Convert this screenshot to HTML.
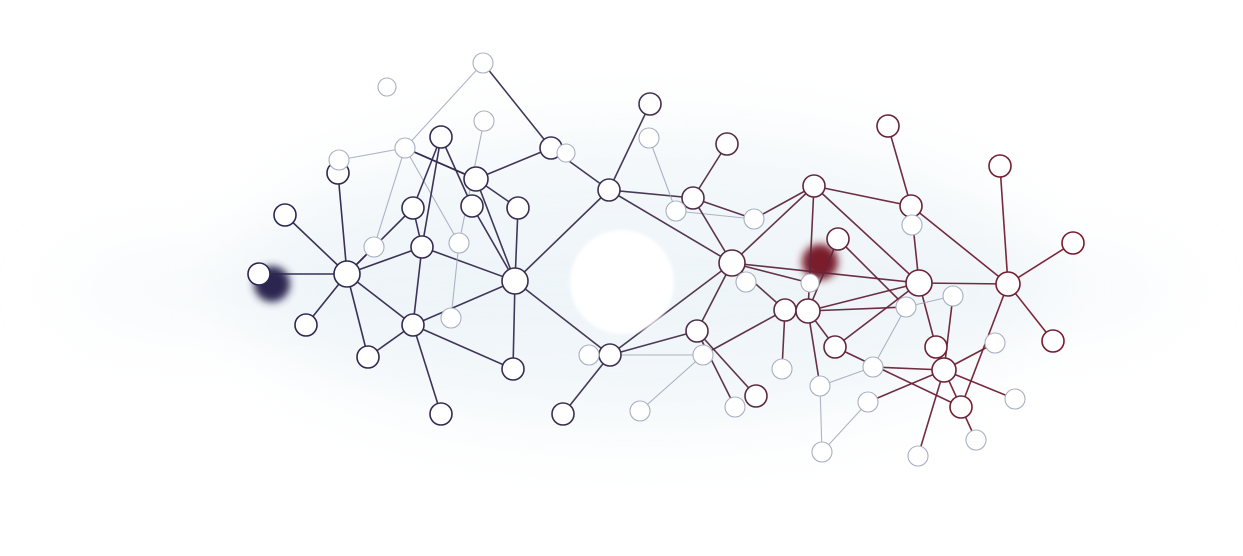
<!DOCTYPE html>
<html><head><meta charset="utf-8">
<style>
html,body{margin:0;padding:0;background:#fff;width:1243px;height:556px;overflow:hidden}
svg{display:block}
</style></head>
<body>
<svg id="net" width="1243" height="556" viewBox="0 0 1243 556" xmlns="http://www.w3.org/2000/svg">
<defs>
<linearGradient id="eg" gradientUnits="userSpaceOnUse" x1="250" y1="0" x2="1080" y2="0">
<stop offset="0" stop-color="#2b2550"/><stop offset="0.45" stop-color="#3d3050"/><stop offset="0.6" stop-color="#5a2a40"/><stop offset="1" stop-color="#7a1a2c"/>
</linearGradient>
<filter id="blur" x="-50%" y="-50%" width="200%" height="200%"><feGaussianBlur stdDeviation="35"/></filter>
<filter id="blur2" x="-50%" y="-50%" width="200%" height="200%"><feGaussianBlur stdDeviation="4"/></filter>
<filter id="blur3" x="-50%" y="-50%" width="200%" height="200%"><feGaussianBlur stdDeviation="1.5"/></filter>
</defs>
<g>
<ellipse cx="640" cy="280" rx="400" ry="150" fill="#edf4f8" filter="url(#blur)" opacity="0.7"/>
<ellipse cx="620" cy="290" rx="560" ry="50" fill="#eaf2f7" filter="url(#blur)" opacity="0.5"/>
</g>
<g id="blobs"></g>
<g id="edges"></g>
<g id="nodes"></g>
<circle cx="622" cy="282" r="52" fill="#fff" filter="url(#blur3)"/>
</svg>
<script>
// node positions [x, y, radius, faded(0/1)]
const nodes = {
A:[259,274,11,0],B:[347,274,13,0],C:[285,215,11,0],D:[306,325,11,0],E:[338,173,11,0],F:[339,160,10,1],
G:[405,148,10,1],H:[387,87,9,1],I:[441,137,11,0],J:[413,208,11,0],K:[422,247,11,0],L:[459,243,10,1],
M:[472,206,11,0],N:[476,179,12,0],O:[518,208,11,0],P:[515,281,13,0],Q:[413,325,11,0],R:[368,357,11,0],
S:[441,414,11,0],T:[513,369,11,0],U:[483,63,10,1],V:[484,121,10,1],W:[551,148,11,0],X:[566,153,9,1],
Y:[374,247,10,1],Z:[451,318,10,1],
m1:[609,190,11,0],m2:[650,104,11,0],m3:[649,138,10,1],m4:[693,198,11,0],m5:[727,144,11,0],m6:[676,211,10,1],
m7:[754,219,10,1],m8:[732,263,13,0],m9:[746,282,10,1],m10:[697,331,11,0],m11:[703,355,10,1],m12:[610,355,11,0],
m13:[589,355,10,1],m14:[563,414,11,0],m15:[640,411,10,1],m16:[735,407,10,1],m17:[756,396,11,0],
r1:[814,186,11,0],r2:[888,126,11,0],r3:[911,206,11,0],r4:[912,225,10,1],r5:[838,239,11,0],r6:[919,283,13,0],
r7:[1000,166,11,0],r8:[1073,243,11,0],r9:[1008,284,12,0],r10:[1053,341,11,0],r11:[785,310,11,0],r12:[808,311,12,0],
r13:[835,347,11,0],r14:[906,307,10,1],r15:[953,296,10,1],r16:[936,347,11,0],r17:[944,370,12,0],r18:[961,407,11,0],
r19:[995,343,10,1],r20:[1015,399,10,1],r21:[976,440,10,1],r22:[918,456,10,1],r23:[873,367,10,1],r24:[868,402,10,1],
r25:[820,386,10,1],r26:[822,452,10,1],r27:[782,369,10,1],r28:[810,283,9,1]
};
const edges = [
["A","B"],["B","C"],["B","D"],["B","E"],["B","J"],["B","K"],["B","Q"],["B","R"],["B","Y"],
["E","F"],["F","G"],["G","U"],["G","Y"],["G","L"],["G","N"],["I","J"],["I","M"],["I","K"],["M","P"],
["N","G"],["N","P"],["N","O"],["N","W"],["J","K"],["K","P"],["K","Q"],["L","Z"],["O","P"],["P","Q"],
["P","T"],["Q","S"],["Q","R"],["Q","T"],["U","W"],["W","m1"],["V","L"],["P","m1"],["P","m12"],
["m1","m2"],["m1","m4"],["m1","m8"],["m3","m6"],["m6","m7"],["m4","m5"],["m4","m8"],["m4","m7"],
["m7","r1"],["m8","r1"],["m8","m10"],["m8","r11"],["m8","r6"],["m8","m12"],["m10","m12"],["m12","m14"],
["m10","m16"],["m10","m17"],["m11","m15"],["m11","r11"],["m8","m9"],["m13","m11"],
["r1","r3"],["r1","r6"],["r1","r12"],["r2","r3"],["r3","r6"],["r3","r4"],["r3","r9"],["r5","r12"],["r5","r14"],
["r6","r9"],["r6","r13"],["r6","r16"],["r6","r12"],["r9","r7"],["r9","r8"],["r9","r10"],["r9","r18"],
["r11","r12"],["r12","r13"],["r13","r18"],["r12","r14"],["r14","r23"],["r16","r17"],["r15","r17"],["r15","r14"],
["r17","r23"],["r17","r24"],["r17","r20"],["r17","r21"],["r17","r22"],["r17","r19"],["r23","r25"],
["r24","r26"],["r25","r26"],["r12","r25"],["r11","r27"],["m8","r28"]
];
const blobs = [[272,284,"#2b2550"],[820,262,"#7a1a2c"]];

const NS = "http://www.w3.org/2000/svg";
const bg = document.getElementById('blobs');
blobs.forEach(b=>{
  const c=document.createElementNS(NS,'circle');
  c.setAttribute('cx',b[0]);c.setAttribute('cy',b[1]);c.setAttribute('r',18);
  c.setAttribute('fill',b[2]);c.setAttribute('filter','url(#blur2)');
  
  
  bg.appendChild(c);
});
const eg=document.getElementById('edges');
edges.forEach(e=>{
  const a=nodes[e[0]],b=nodes[e[1]];
  const l=document.createElementNS(NS,'line');
  l.setAttribute('x1',a[0]);l.setAttribute('y1',a[1]);l.setAttribute('x2',b[0]);l.setAttribute('y2',b[1]);
  const faded=a[3]&&b[3];
  l.setAttribute('stroke',faded?'#9aa3b8':'url(#eg)');
  l.setAttribute('stroke-width',faded?1.1:1.6);
  l.setAttribute('opacity',faded?0.8:0.95);
  
  
  eg.appendChild(l);
});
const ng=document.getElementById('nodes');
Object.keys(nodes).forEach(k=>{
  const n=nodes[k];
  const c=document.createElementNS(NS,'circle');
  c.setAttribute('cx',n[0]);c.setAttribute('cy',n[1]);c.setAttribute('r',n[2]);
  c.setAttribute('fill','#fff');
  c.setAttribute('stroke',n[3]?'#a9b0c2':'url(#eg)');
  c.setAttribute('stroke-width',n[3]?1.1:1.6);
  
  
  ng.appendChild(c);
});
</script>
</body></html>
